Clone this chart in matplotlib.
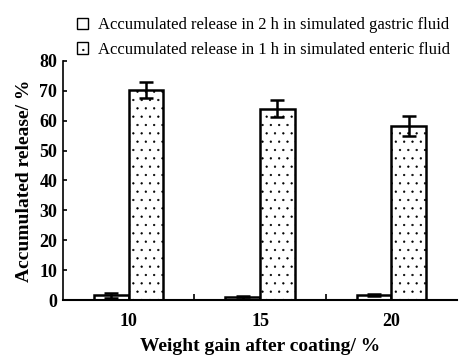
import numpy as np
import matplotlib
matplotlib.use("Agg")
import matplotlib.pyplot as plt

# weight gain after coating (%)
categories = ["10", "15", "20"]
gastric = [1.6, 1.0, 1.7]          # accumulated release in 2 h, simulated gastric fluid
gastric_err = [0.8, 0.5, 0.3]
enteric = [70.2, 64.0, 58.3]       # accumulated release in 1 h, simulated enteric fluid
enteric_err = [2.6, 2.8, 3.3]

plt.rcParams['font.family'] = ['Liberation Serif', 'DejaVu Serif']
plt.rcParams['hatch.linewidth'] = 0.4
plt.rcParams['hatch.color'] = '#333333'

fig = plt.figure(figsize=(4.59, 3.56), dpi=100)
ax = fig.add_axes([0.137, 0.157, 0.859, 0.672])

x = np.arange(len(categories))
w = 0.263
err_kw = dict(elinewidth=1.8, capthick=1.8, capsize=5, ecolor='black')
ax.bar(x - w / 2, gastric, w, yerr=gastric_err, color='white', edgecolor='black',
       linewidth=1.8, error_kw=err_kw,
       label='Accumulated release in 2 h in simulated gastric fluid')
ax.bar(x + w / 2, enteric, w, yerr=enteric_err, color='white', edgecolor='black',
       linewidth=1.8, hatch='..', error_kw=err_kw,
       label='Accumulated release in 1 h in simulated enteric fluid')

ax.set_xlim(-0.5, 2.5)
ax.set_ylim(0, 80)
ax.set_yticks(range(0, 81, 10))
ax.set_xticks(x)
ax.set_xticklabels(categories)
ax.set_xticks([0.5, 1.5], minor=True)
ax.tick_params(axis='x', which='major', length=0, pad=9)
ax.tick_params(axis='x', which='minor', direction='in', length=4, width=1.2)
ax.tick_params(axis='y', direction='in', length=3, width=1.2, pad=4)
for lab in ax.get_xticklabels() + ax.get_yticklabels():
    lab.set_fontweight('bold')
    lab.set_fontsize(13)

ax.spines['top'].set_visible(False)
ax.spines['right'].set_visible(False)
ax.spines['left'].set_linewidth(1.2)
ax.spines['bottom'].set_linewidth(1.5)

ax.set_xlabel('Weight gain after coating/ %', fontsize=14, fontweight='bold', labelpad=6)
ax.set_ylabel('Accumulated release/ %', fontsize=14, fontweight='bold', labelpad=5)

leg = ax.legend(loc='lower right', bbox_to_anchor=(1.0, 0.985), frameon=False, fontsize=12,
                handlelength=0.7, handleheight=0.7, handletextpad=0.6, labelspacing=0.5,
                borderaxespad=0)
for h in leg.legend_handles:
    h.set_linewidth(1.0)

fig.savefig('out.png', dpi=100)
